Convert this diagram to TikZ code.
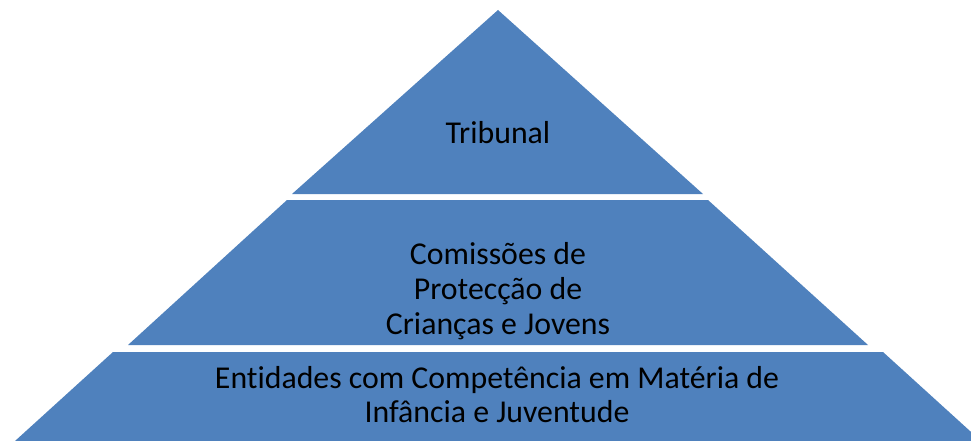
\documentclass[tikz,border=0pt]{standalone}
\usepackage{fontspec}
\setmainfont{Carlito}[Ligatures=NoCommon]
\definecolor{pyrblue}{RGB}{79,129,189}
\begin{document}
\begin{tikzpicture}[x=1pt,y=-1pt,
  layer/.style={fill=pyrblue,draw=none},
  lbl/.style={anchor=base,inner sep=0pt,text=black,font=\fontsize{31.8}{35}\selectfont}]
\useasboundingbox (0,0) rectangle (971,441);
\clip (0,0) rectangle (971,441);
% layers
\fill[layer] (292,194) -- (498,10) -- (703,194) -- cycle;
\fill[layer] (287,200) -- (708,200) -- (868,345) -- (128,345) -- cycle;
\fill[layer] (113,352) -- (883,352) -- (981,441) -- (15,441) -- cycle;
% labels
\node[lbl] (t1) at (498,143.3) {Tribunal};
\node[lbl] (m1) at (498,264.3) {Comissões de};
\node[lbl] (m2) at (498,299.3) {Protecção de};
\node[lbl] (m3) at (498,334.3) {Crianças e Jovens};
\node[lbl] (b1) at (497,388.3) {Entidades com Competência em Matéria de};
\node[lbl] (b2) at (497,422.7) {Infância e Juventude};
\end{tikzpicture}
\end{document}
